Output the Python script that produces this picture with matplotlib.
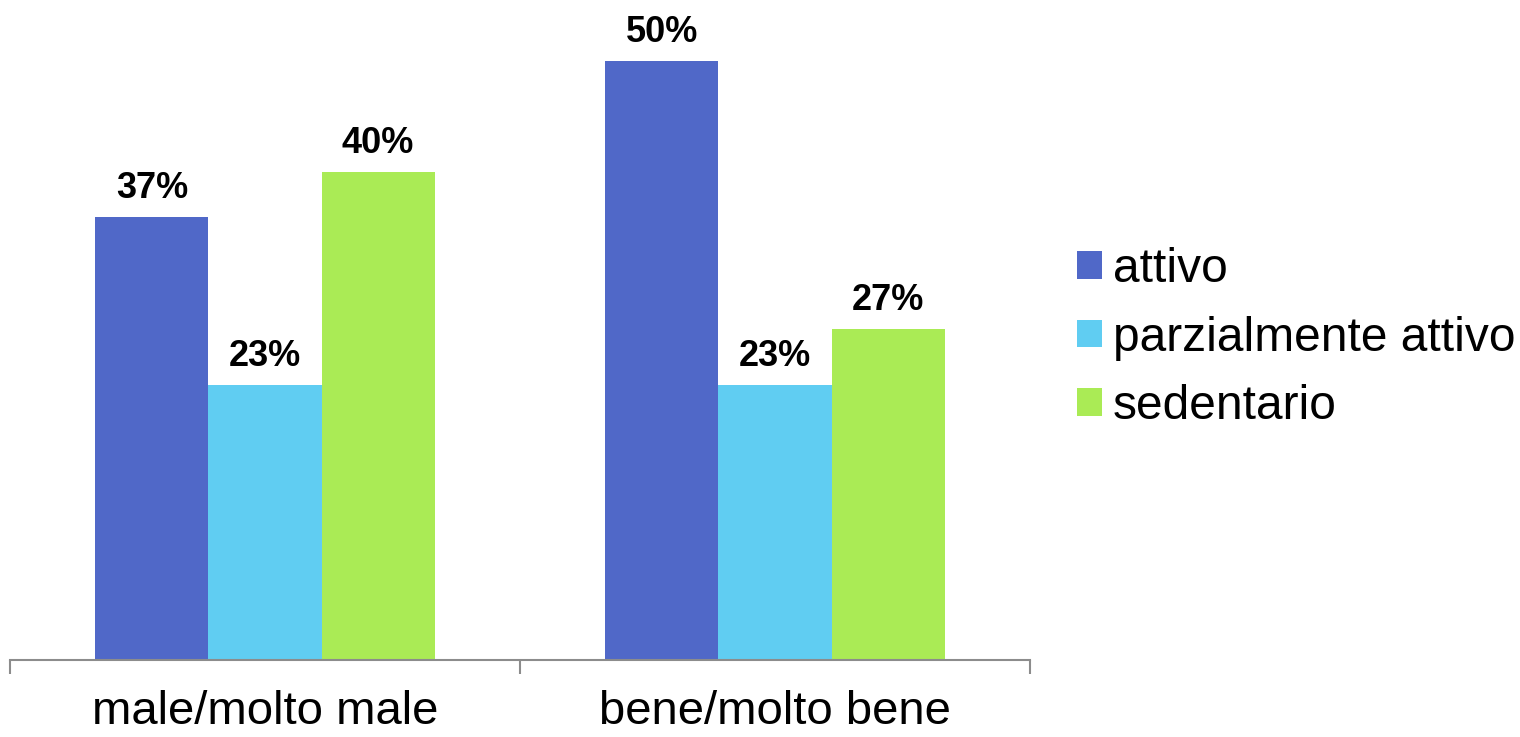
import matplotlib.pyplot as plt
import numpy as np

plt.rcParams['font.family'] = ['Liberation Sans', 'DejaVu Sans']

# Data
categories = ['male/molto male', 'bene/molto bene']
series = ['attivo', 'parzialmente attivo', 'sedentario']
attivo = [36.7, 49.6]
parzialmente = [22.8, 22.8]
sedentario = [40.4, 27.4]
colors = ['#5068C8', '#60CDF2', '#AAEB55']

values = [attivo, parzialmente, sedentario]
x = np.arange(len(categories))
width = 0.2216

fig = plt.figure(figsize=(15.2, 7.37), dpi=100)
ax = fig.add_axes([10 / 1520, (737 - 660) / 737, 1020 / 1520, 660 / 737])

for i, (name, vals, col) in enumerate(zip(series, values, colors)):
    bars = ax.bar(x + (i - 1) * width, vals, width, label=name, color=col)
    for rect, v in zip(bars, vals):
        ax.annotate(f'{v:.0f}%', (rect.get_x() + rect.get_width() / 2, v),
                    xytext=(0, 13.5), textcoords='offset points',
                    ha='center', va='baseline', fontsize=26, fontweight='bold')

ax.set_xlim(-0.5, len(categories) - 0.5)
ax.set_ylim(0, 660 / 12.08)

for s in ['top', 'right', 'left']:
    ax.spines[s].set_visible(False)
ax.spines['bottom'].set_color('#8C8C8C')
ax.spines['bottom'].set_linewidth(1.5)
ax.set_yticks([])

ax.set_xticks(x)
ax.set_xticklabels(categories, fontsize=34)
ax.tick_params(axis='x', which='major', length=0, pad=21.5)
ax.set_xticks(np.arange(len(categories) + 1) - 0.5, minor=True)
ax.tick_params(axis='x', which='minor', length=10, width=1.5, color='#8C8C8C')

ax.legend(loc='center left', bbox_to_anchor=(1077 / 1520, (737 - 338) / 737),
          bbox_transform=fig.transFigure, frameon=False, fontsize=34.5,
          borderpad=0, borderaxespad=0, handlelength=0.52, handleheight=0.52,
          handletextpad=0.23, labelspacing=0.49)

plt.savefig('out.png', dpi=100)
